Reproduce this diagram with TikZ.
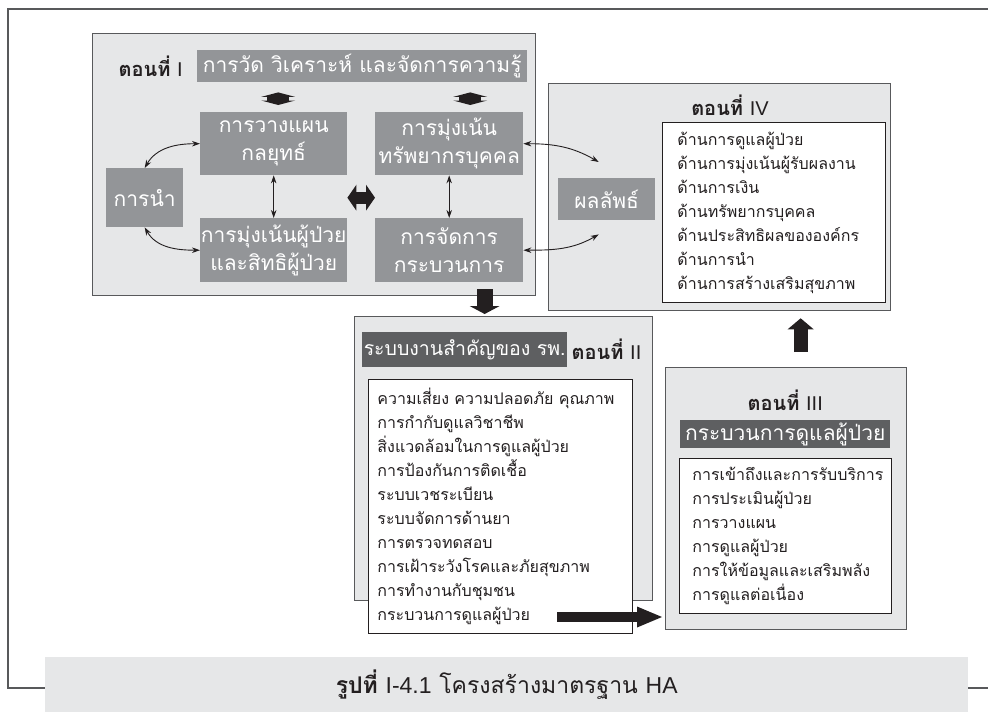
\documentclass[tikz,border=0pt]{standalone}
\usepackage{fontspec}
\setmainfont[Script=Thai]{Loma}
\newfontfamily\numfont{Liberation Sans}
\usetikzlibrary{positioning,arrows.meta}
\definecolor{paper}{HTML}{E6E7E8}
\definecolor{rim}{HTML}{58595B}
\definecolor{topicgray}{HTML}{939598}
\definecolor{bannergray}{HTML}{5E5F61}
\definecolor{ink}{HTML}{231F20}

\begin{document}
\begin{tikzpicture}[x=1pt,y=-1pt]
        \tikzset{part/.style={draw=rim, fill=paper, line width=1.3pt, inner sep=0pt, anchor=north west}}
        \tikzset{topic/.style={fill=topicgray, text=white, inner sep=0pt, anchor=north west, align=center, font=\fontsize{21}{28}\selectfont}}
        \tikzset{banner/.style={fill=bannergray, text=white, inner sep=0pt, anchor=north west, font=\fontsize{21}{26}\selectfont}}
        \tikzset{partname/.style={text=ink, inner sep=0pt, font=\bfseries\fontsize{20}{24}\selectfont}}
        \tikzset{itemlist/.style={draw=ink, fill=white, line width=0.9pt, anchor=north west, align=left, inner ysep=0pt, text=ink, font=\fontsize{16}{24}\selectfont}}
        \tikzset{duplex/.style={draw=ink, line width=0.9pt, {Stealth[length=8pt,width=5.5pt]}-{Stealth[length=8pt,width=5.5pt]}}}
        \tikzset{vpair/.style={draw=ink, line width=22pt, {Triangle[width=34pt,length=4.5pt,line width=0pt]}-{Triangle[width=34pt,length=4.5pt,line width=0pt]}}}
        \tikzset{hpair/.style={draw=ink, line width=12pt, {Triangle[width=26pt,length=9pt,line width=0pt]}-{Triangle[width=26pt,length=9pt,line width=0pt]}}}

        \useasboundingbox (0,0) rectangle (988,712);
        \draw[rim, line width=1.5pt] (1000,9) -- (8,9) -- (8,688) -- (1000,688);

        \node[part, minimum width=443pt, minimum height=262pt] (partI) at (92,33) {};
        \node[topic, minimum width=330pt, minimum height=32pt] (hdr) at (197,50) {การวัด วิเคราะห์ และจัดการความรู้};
        \node[partname, left=14pt of hdr] (nameI) {ตอนที่ {\numfont\mdseries I}};
        \node[topic, minimum width=147pt, minimum height=63pt] (plan) at (200,112) {การวางแผน\\กลยุทธ์};
        \node[topic, minimum width=148pt, minimum height=63pt] (hr) at (375,112) {การมุ่งเน้น\\ทรัพยากรบุคคล};
        \node[topic, minimum width=77pt, minimum height=59pt] (lead) at (106,168) {การนำ};
        \node[topic, minimum width=147pt, minimum height=64pt] (patient) at (200,218) {การมุ่งเน้นผู้ป่วย\\และสิทธิผู้ป่วย};
        \node[topic, minimum width=148pt, minimum height=64pt] (process) at (375,218) {การจัดการ\\กระบวนการ};

        \node[part, minimum width=342pt, minimum height=227pt] (partIV) at (548,83) {};
        \node[partname] (nameIV) at (730,105) {ตอนที่ {\numfont\mdseries IV}};
        \node[topic, minimum width=97pt, minimum height=42pt] (result) at (558,178) {ผลลัพธ์};
        \node[itemlist, minimum height=180pt, text width=193pt, inner xsep=15pt] (listIV) at (662,122) {ด้านการดูแลผู้ป่วย\\ด้านการมุ่งเน้นผู้รับผลงาน\\ด้านการเงิน\\ด้านทรัพยากรบุคคล\\ด้านประสิทธิผลขององค์กร\\ด้านการนำ\\ด้านการสร้างเสริมสุขภาพ};

        \node[part, minimum width=298pt, minimum height=284pt] (partII) at (354,316) {};
        \node[banner, minimum width=205pt, minimum height=35pt, font=\fontsize{19.5}{24}\selectfont] (bannerII) at (362,332) {ระบบงานสำคัญของ รพ.};
        \node[partname, right=4pt of bannerII] (nameII) {ตอนที่ {\numfont\mdseries II}};
        \node[itemlist, minimum height=254pt, text width=246pt, inner xsep=9pt] (listII) at (368,379) {ความเสี่ยง~ความปลอดภัย~คุณภาพ\\การกำกับดูแลวิชาชีพ\\สิ่งแวดล้อมในการดูแลผู้ป่วย\\การป้องกันการติดเชื้อ\\ระบบเวชระเบียน\\ระบบจัดการด้านยา\\การตรวจทดสอบ\\การเฝ้าระวังโรคและภัยสุขภาพ\\การทำงานกับชุมชน\\กระบวนการดูแลผู้ป่วย};

        \node[part, minimum width=241pt, minimum height=262pt] (partIII) at (665,367) {};
        \node[banner, minimum width=210pt, minimum height=28pt] (bannerIII) at (680,420) {กระบวนการดูแลผู้ป่วย};
        \node[partname, above=9pt of bannerIII] (nameIII) {ตอนที่ {\numfont\mdseries III}};
        \node[itemlist, minimum height=155pt, text width=186pt, inner xsep=13pt] (listIII) at (679,458) {การเข้าถึงและการรับบริการ\\การประเมินผู้ป่วย\\การวางแผน\\การดูแลผู้ป่วย\\การให้ข้อมูลและเสริมพลัง\\การดูแลต่อเนื่อง};

        \node[fill=paper, anchor=north west, minimum width=923pt, minimum height=55pt, inner sep=0pt, text=ink, font=\fontsize{23}{28}\selectfont] (caption) at (45,657) {\textbf{รูปที่} {\numfont I-4.1} โครงสร้างมาตรฐาน {\numfont HA}};

        \coordinate (planlift) at ([xshift=4.5pt]plan.north);
        \coordinate (hrlift) at ([xshift=21pt]hr.north);
        \draw[vpair, shorten <=7pt, shorten >=10pt] (planlift) -- (planlift |- hdr.south);
        \draw[vpair, shorten <=7pt, shorten >=10pt] (hrlift) -- (hrlift |- hdr.south);
        \draw[hpair] (lead -| plan.east) -- (lead -| hr.west);

        \draw[duplex] (plan) -- (patient);
        \draw[duplex] (hr) -- (process);
        \draw[duplex] (lead.north) to[out=60, in=180] (plan.west);
        \draw[duplex] (lead.south) to[out=-60, in=180] (patient.west);
        \draw[duplex] (hr.east) to[out=0, in=150] ([xshift=-8pt,yshift=16pt]result.north);
        \draw[duplex] (process.east) to[out=0, in=-150] ([xshift=-8pt,yshift=-14pt]result.south);

        \coordinate (drop) at ([xshift=-19pt]partII.north);
        \coordinate (lift) at ([xshift=14.5pt]partIII.north);
        \coordinate (handoff) at (557,617);
        \draw[draw=ink, line width=16pt, -{Triangle[width=30pt,length=8pt,line width=0pt]}, shorten <=-7pt, shorten >=2pt] (partI.south -| drop) -- (drop);
        \draw[draw=ink, line width=14pt, -{Triangle[width=26pt,length=11pt,line width=0pt]}, shorten <=15pt, shorten >=7pt] (lift) -- (lift |- partIV.south);
        \draw[draw=ink, line width=10pt, -{Triangle[width=21pt,length=25pt,line width=0pt]}, shorten >=3pt] (handoff) -- (handoff -| partIII.west);
\end{tikzpicture}
\end{document}
